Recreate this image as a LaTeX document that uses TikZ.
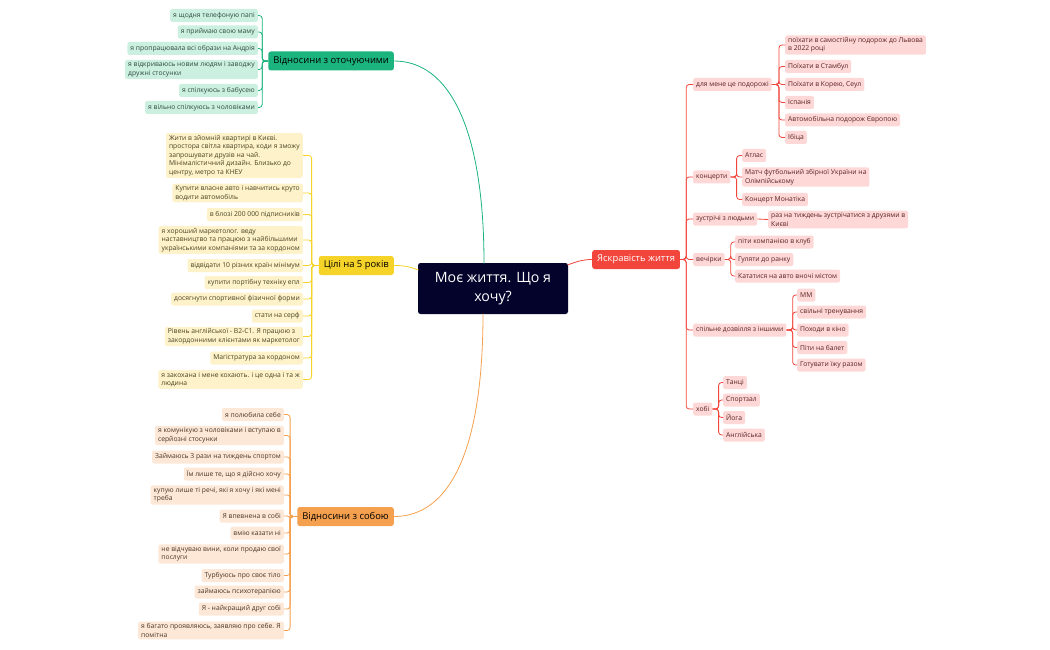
\documentclass[tikz,border=0pt]{standalone}
\usepackage{fontspec}
\setmainfont{Open Sans}
\definecolor{gfill}{HTML}{CCF0E0}
\definecolor{yfill}{HTML}{FDF2C9}
\definecolor{ofill}{HTML}{FDE8D7}
\definecolor{rfill}{HTML}{FDD8D6}
\definecolor{gmain}{HTML}{1BB37E}
\definecolor{ymain}{HTML}{F5D329}
\definecolor{omain}{HTML}{F5A04E}
\definecolor{rmain}{HTML}{F2453B}
\definecolor{cmain}{HTML}{03032B}
\definecolor{gtext}{HTML}{2E4A3E}
\definecolor{ytext}{HTML}{4A4222}
\definecolor{otext}{HTML}{4A3424}
\definecolor{rtext}{HTML}{5A2020}
\begin{document}
\begin{tikzpicture}[x=1pt,y=-1pt,
  leaf/.style={rounded corners=2pt,inner xsep=3pt,inner ysep=2pt,minimum height=13pt,
    font=\fontsize{6.75}{8.5}\selectfont,align=left},
  gleaf/.style={leaf,fill=gfill,text=gtext,anchor=east},
  yleaf/.style={leaf,fill=yfill,text=ytext,anchor=east},
  oleaf/.style={leaf,fill=ofill,text=otext,anchor=east},
  rleaf/.style={leaf,fill=rfill,text=rtext,anchor=west},
  mainbr/.style={rounded corners=2.5pt,inner xsep=5pt,minimum height=19pt,font=\fontsize{9.4}{11}\selectfont},
  gline/.style={draw=gmain,line width=0.8pt,rounded corners=3pt},
  yline/.style={draw=ymain,line width=0.8pt,rounded corners=3pt},
  oline/.style={draw=omain,line width=0.8pt,rounded corners=3pt},
  rline/.style={draw=rmain,line width=0.8pt,rounded corners=3pt}
]
\useasboundingbox (0,0) rectangle (1050,650);
% central
\node[fill=cmain,text=white,rounded corners=2.5pt,minimum width=150pt,minimum height=51pt,align=center,
  font=\fontsize{14.2}{19}\selectfont] (c) at (493,288.5) {Моє життя. Що я\\хочу?};
% main branches
\node[mainbr,fill=gmain,text=black,anchor=east] (g) at (394,61) {Відносини з оточуючими};
\node[mainbr,fill=ymain,text=black,anchor=east] (y) at (394,265.5) {Цілі на 5 років};
\node[mainbr,fill=omain,text=black,anchor=east] (o) at (394,516.5) {Відносини з собою};
\node[mainbr,fill=rmain,text=white,anchor=west] (r) at (592,259.5) {Яскравість життя};
\coordinate (cg) at (484,263.5);
\coordinate (cy) at (418.5,270);
\coordinate (co) at (483,313.5);
\coordinate (cr) at (567.5,265);
\draw[draw=gmain,line width=0.8pt] (cg) .. controls (484,130) and (450,61) .. (g.east);
\draw[draw=ymain,line width=0.8pt] (cy) .. controls (408,266) and (402,265.5) .. (y.east);
\draw[draw=omain,line width=0.8pt] (co) .. controls (483,450) and (450,516.5) .. (o.east);
\draw[draw=rmain,line width=0.8pt] (cr) .. controls (578,261) and (584,259.5) .. (r.west);

% green leaves
\node[gleaf] (g1) at (258,15.5) {я щодня телефоную папі};
\node[gleaf] (g2) at (258,32) {я приймаю свою маму};
\node[gleaf] (g3) at (258,48.5) {я пропрацювала всі образи на Андрія};
\node[gleaf] (g4) at (258,69.5) {я відкриваюсь новим людям і заводжу\\дружні стосунки};
\node[gleaf] (g5) at (258,90.5) {я спілкуюсь з бабусею};
\node[gleaf] (g6) at (258,107.5) {я вільно спілкуюсь з чоловіками};
\foreach \i in {1,...,6} \draw[gline] (g.west) -- ++(-6,0) |- (g\i.east);

% yellow leaves
\node[yleaf] (y1) at (303,155.5) {Жити в зйомній квартирі в Києві.\\простора світла квартира, коди я зможу\\запрошувати друзів на чай.\\Мінімалістичний дизайн. Близько до\\центру, метро та КНЕУ};
\node[yleaf] (y2) at (303,193) {Купити власне авто і навчитись круто\\водити автомобіль};
\node[yleaf] (y3) at (303,214.5) {в блозі 200 000 підписників};
\node[yleaf] (y4) at (303,240) {я хороший маркетолог. веду\\наставництво та працюю з найбільшими\\українськими компаніями та за кордоном};
\node[yleaf] (y5) at (303,265.5) {відвідати 10 різних країн мінімум};
\node[yleaf] (y6) at (303,282.5) {купити портібну техніку епл};
\node[yleaf] (y7) at (303,299) {досягнути спортивної фізичної форми};
\node[yleaf] (y8) at (303,316) {стати на серф};
\node[yleaf] (y9) at (303,336.5) {Рівень англійської - B2-C1. Я працюю з\\закордонними клієнтами як маркетолог};
\node[yleaf] (y10) at (303,358) {Магістратура за кордоном};
\node[yleaf] (y11) at (303,379.5) {я закохана і мене кохають. і це одна і та ж\\людина};
\foreach \i in {1,...,11} \draw[yline] (y.west) -- ++(-7,0) |- (y\i.east);

% orange leaves
\node[oleaf] (o1) at (284,414.5) {я полюбила себе};
\node[oleaf] (o2) at (284,435.5) {я комунікую з чоловіками і вступаю в\\серйозні стосунки};
\node[oleaf] (o3) at (284,457) {Займаюсь 3 рази на тиждень спортом};
\node[oleaf] (o4) at (284,474) {Їм лише те, що я дійсно хочу};
\node[oleaf] (o5) at (284,495) {купую лише ті речі, які я хочу і які мені\\треба};
\node[oleaf] (o6) at (284,516) {Я впевнена в собі};
\node[oleaf] (o7) at (284,533) {вмію казати ні};
\node[oleaf] (o8) at (284,554) {не відчуваю вини, коли продаю свої\\послуги};
\node[oleaf] (o9) at (284,575.5) {Турбуюсь про своє тіло};
\node[oleaf] (o10) at (284,592) {займаюсь психотерапією};
\node[oleaf] (o11) at (284,609) {Я - найкращий друг собі};
\node[oleaf] (o12) at (284,630.5) {я багато проявляюсь, заявляю про себе. Я\\помітна};
\foreach \i in {1,...,12} \draw[oline] (o.west) -- ++(-7,0) |- (o\i.east);

% red level 2
\node[rleaf] (r1) at (693,84.5) {для мене це подорожі};
\node[rleaf] (r2) at (693,177) {концерти};
\node[rleaf] (r3) at (693,219) {зустрічі з людьми};
\node[rleaf] (r4) at (693,259.5) {вечірки};
\node[rleaf] (r5) at (693,330) {спільне дозвілля з іншими};
\node[rleaf] (r6) at (693,409) {хобі};
\foreach \i in {1,...,6} \draw[rline] (r.east) -- ++(6,0) |- (r\i.west);

% travel
\node[rleaf] (a1) at (785,45) {поїхати в самостійну подорож до Львова\\в 2022 році};
\node[rleaf] (a2) at (785,66.5) {Поїхати в Стамбул};
\node[rleaf] (a3) at (785,84.5) {Поїхати в Корею, Сеул};
\node[rleaf] (a4) at (785,102.5) {Іспанія};
\node[rleaf] (a5) at (785,120) {Автомобільна подорож Європою};
\node[rleaf] (a6) at (785,137.5) {Ібіца};
\foreach \i in {1,...,6} \draw[rline] (r1.east) -- ++(7,0) |- (a\i.west);

% concerts
\node[rleaf] (b1) at (742,155.5) {Атлас};
\node[rleaf] (b2) at (742,177) {Матч футбольний збірної України на\\Олімпійському};
\node[rleaf] (b3) at (742,199.5) {Концерт Монатіка};
\foreach \i in {1,...,3} \draw[rline] (r2.east) -- ++(6,0) |- (b\i.west);

% meetings
\node[rleaf] (m1) at (768,219.5) {раз на тиждень зустрічатися з друзями в\\Києві};
\draw[rline] (r3.east) -- (m1.west);

% parties
\node[rleaf] (p1) at (735,242) {піти компанією в клуб};
\node[rleaf] (p2) at (735,259.5) {Гуляти до ранку};
\node[rleaf] (p3) at (735,276) {Кататися на авто вночі містом};
\foreach \i in {1,...,3} \draw[rline] (r4.east) -- ++(6,0) |- (p\i.west);

% leisure
\node[rleaf] (s1) at (797,295) {ММ};
\node[rleaf] (s2) at (797,312) {свільні тренування};
\node[rleaf] (s3) at (797,330) {Походи в кіно};
\node[rleaf] (s4) at (797,347.5) {Піти на балет};
\node[rleaf] (s5) at (797,365) {Готувати їжу разом};
\foreach \i in {1,...,5} \draw[rline] (r5.east) -- ++(6,0) |- (s\i.west);

% hobby
\node[rleaf] (h1) at (723,382.5) {Танці};
\node[rleaf] (h2) at (723,400) {Спортзал};
\node[rleaf] (h3) at (723,417.5) {Йога};
\node[rleaf] (h4) at (723,435) {Англійська};
\foreach \i in {1,...,4} \draw[rline] (r6.east) -- ++(6,0) |- (h\i.west);
\end{tikzpicture}
\end{document}
